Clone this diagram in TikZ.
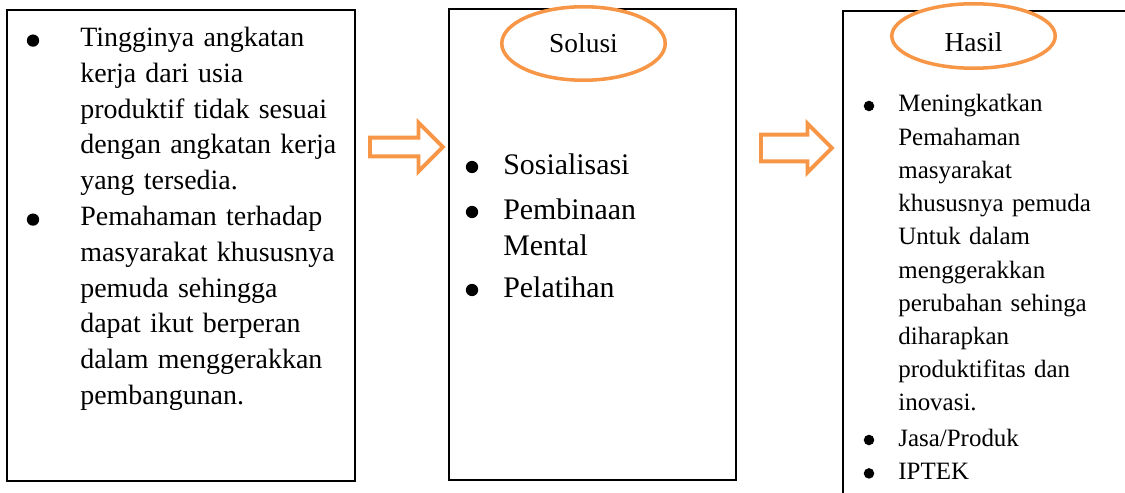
\documentclass[tikz,border=0pt]{standalone}
\usepackage{fontspec}
\setmainfont{Liberation Serif}
\usepackage{xcolor}
\usepackage{tikz}
\usetikzlibrary{shapes.geometric, shapes.arrows}
\definecolor{oranye}{HTML}{F79646}
\tikzstyle{kotak} = [rectangle, draw=black, line width=0.75pt, inner sep=0pt]
\tikzstyle{oval} = [ellipse, draw=oranye, fill=white, line width=2pt, inner sep=0pt, minimum width=3.27cm]
\tikzstyle{judul} = [inner sep=0pt, font=\fontsize{15.6}{18}\selectfont]
\tikzstyle{panah} = [single arrow, draw=oranye, fill=white, line width=2.2pt, inner xsep=0pt, single arrow tip angle=90, anchor=tail]
\tikzstyle{titik} = [circle, fill=black, inner sep=0pt, minimum size=7pt]
\tikzstyle{isiKiri} = [anchor=base west, inner sep=0pt, text width=6cm, align=left, font={\fontsize{15.9}{20.3}\selectfont}]
\tikzstyle{isiTengah} = [anchor=base west, inner sep=0pt, text width=4.4cm, align=left, font={\fontsize{17}{20.75}\selectfont}]
\tikzstyle{isiKanan} = [anchor=base west, inner sep=0pt, text width=4.4cm, align=left, font={\fontsize{14.2}{18.9}\selectfont}]

\begin{document}
\begin{tikzpicture}[x=0.02cm, y=-0.02cm]
	\useasboundingbox (0,0) rectangle (1125,493);
	\clip (0,0) rectangle (1125,493);
	% kotak
	\node (masalah) [kotak, minimum width=6.96cm, minimum height=9.42cm] at (181,245.5) {};
	\node (solusi) [kotak, minimum width=5.74cm, minimum height=9.42cm] at (592.5,244.5) {};
	\node (hasil) [kotak, minimum width=5.94cm, minimum height=10.18cm] at (991.5,265.5) {};
	% judul
	\node (ovalSolusi) [oval, minimum height=1.47cm] at (583.5,43.5) {};
	\node (teksSolusi) [judul] at (583.5,43.5) {Solusi};
	\node (ovalHasil) [oval, minimum height=1.29cm] at (973.5,36) {};
	\node (teksHasil) [judul] at (973.5,42) {Hasil};
	% panah
	\node (panahA) [panah, inner ysep=0.15cm, minimum height=1.46cm, single arrow head extend=0.3cm] at (368,147) {};
	\node (panahB) [panah, inner ysep=0.23cm, minimum height=1.42cm, single arrow head extend=0.22cm] at (759,148) {};
	% isi kiri
	\node (k1) [isiKiri] at (80,47) {Tingginya angkatan\\kerja dari usia\\produktif tidak sesuai\\dengan angkatan kerja\\yang tersedia.};
	\node (k2) [isiKiri] at (80,226) {Pemahaman terhadap\\masyarakat khususnya\\pemuda sehingga\\dapat ikut berperan\\dalam menggerakkan\\pembangunan.};
	\node (dk1) [titik] at (33,40.6) {};
	\node (dk2) [titik] at (33,219.6) {};
	% isi tengah
	\node (t1) [isiTengah] at (503,174) {Sosialisasi};
	\node (t2) [isiTengah] at (503,219) {Pembinaan\\Mental};
	\node (t3) [isiTengah] at (503,297) {Pelatihan};
	\node (dt1) [titik] at (472,167) {};
	\node (dt2) [titik] at (472,212) {};
	\node (dt3) [titik] at (472,290) {};
	% isi kanan
	\node (n1) [isiKanan] at (898,112) {Meningkatkan\\Pemahaman\\masyarakat\\khususnya pemuda\\Untuk dalam\\menggerakkan\\perubahan sehinga\\diharapkan\\produktifitas dan\\inovasi.};
	\node (n2) [isiKanan] at (898,446) {Jasa/Produk};
	\node (n3) [isiKanan] at (898,479.4) {IPTEK};
	\node (dn1) [titik, minimum size=6pt] at (869,106) {};
	\node (dn2) [titik, minimum size=6pt] at (869,440) {};
	\node (dn3) [titik, minimum size=6pt] at (869,473.4) {};
\end{tikzpicture}
\end{document}
